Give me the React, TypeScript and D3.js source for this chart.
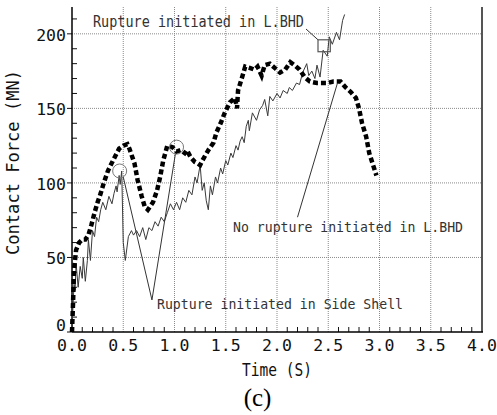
import React from "react";
import { scaleLinear, line, range } from "d3";

// thick dashed curve (square-dot line)
const thickTime = [
  0.0, 0.01, 0.02, 0.04, 0.07, 0.1, 0.13, 0.16, 0.19, 0.22, 0.25, 0.28, 0.31, 0.35, 0.4, 0.43, 0.46,
  0.5, 0.54, 0.56, 0.61, 0.64, 0.68, 0.71, 0.74, 0.79, 0.83, 0.86, 0.89, 0.93, 0.98, 1.02, 1.06,
  1.1, 1.12, 1.16, 1.2, 1.23, 1.25, 1.28, 1.33, 1.38, 1.41, 1.45, 1.49, 1.54, 1.59, 1.61, 1.62,
  1.66, 1.69, 1.74, 1.78, 1.81, 1.85, 1.88, 1.93, 1.98, 2.03, 2.08, 2.13, 2.17, 2.22, 2.27, 2.32,
  2.39, 2.49, 2.55, 2.62, 2.67, 2.72, 2.77, 2.8, 2.83, 2.87, 2.9, 2.97,
];
const thickForce = [
  0, 19, 42, 55, 60, 62, 62, 65, 72, 80, 87, 93, 100, 108, 115, 119, 123,
  125, 126, 123, 113, 102, 91, 84, 82, 87, 95, 104, 115, 125, 124, 121, 122,
  120, 122, 117, 114, 113, 112, 116, 122, 127, 134, 140, 147, 154, 157, 150, 162,
  171, 178, 177, 176, 178, 172, 179, 180, 177, 174, 176, 181, 179, 176, 171, 168,
  167, 167, 168, 168, 164, 161, 157, 150, 140, 131, 120, 105,
];

// thin solid curve
const thinTime = [
  0.0, 0.01, 0.02, 0.03, 0.04, 0.06, 0.08, 0.1, 0.11, 0.13, 0.15, 0.16, 0.18, 0.2, 0.22, 0.24,
  0.26, 0.28, 0.3, 0.33, 0.36, 0.39, 0.41, 0.43, 0.44, 0.46, 0.47, 0.485, 0.5, 0.52, 0.55, 0.58,
  0.6, 0.63, 0.66, 0.69, 0.72, 0.75, 0.78, 0.81, 0.84, 0.87, 0.9, 0.93, 0.96, 0.99, 1.02, 1.05,
  1.08, 1.11, 1.14, 1.17, 1.2, 1.22, 1.25, 1.27, 1.29, 1.31, 1.33, 1.35, 1.37, 1.4, 1.42, 1.45,
  1.47, 1.5, 1.52, 1.55, 1.57, 1.6, 1.62, 1.64, 1.66, 1.68, 1.7, 1.72, 1.73, 1.76, 1.8, 1.83,
  1.86, 1.88, 1.91, 1.93, 1.96, 2.0, 2.03, 2.06, 2.1, 2.12, 2.15, 2.19, 2.22, 2.25, 2.29, 2.31,
  2.34, 2.37, 2.39, 2.42, 2.45, 2.49, 2.51, 2.54, 2.58, 2.61, 2.64, 2.66,
];
const thinForce = [
  0, 18, 32, 28, 46, 30, 44, 36, 50, 34, 48, 62, 48, 68, 64, 77,
  74, 82, 87, 82, 91, 86, 93, 98, 94, 105, 99, 108, 60, 48, 64, 68,
  65, 68, 64, 70, 62, 70, 68, 74, 71, 77, 74, 80, 86, 82, 87, 82,
  90, 87, 95, 92, 104, 100, 112, 95, 100, 88, 82, 98, 92, 104, 100, 110,
  106, 115, 112, 120, 117, 125, 122, 128, 131, 127, 138, 142, 135, 147, 142, 149,
  152, 156, 145, 158, 155, 160, 157, 162, 160, 164, 162, 167, 166, 174, 180, 172,
  175, 170, 179, 171, 189, 185, 198, 193, 201, 196, 209, 213,
];

const xTicks = [0, 0.5, 1, 1.5, 2, 2.5, 3, 3.5, 4];
const yTicks = [0, 50, 100, 150, 200];

export default function App() {
  const W = 497;
  const H = 415;
  const left = 72, right = 482, top = 7, bottom = 332;

  const x = scaleLinear().domain([0, 4]).range([left, right]);
  const y = scaleLinear().domain([0, 218]).range([bottom, top]);

  const thickPath = line<[number, number]>()
    .x(d => x(d[0]))
    .y(d => y(d[1]))(thickTime.map((t, i) => [t, thickForce[i]]));
  const thinPath = line<[number, number]>()
    .x(d => x(d[0]))
    .y(d => y(d[1]))(thinTime.map((t, i) => [t, thinForce[i]]));

  const minorX = range(0, 40).map(i => i / 10).filter(v => Math.round(v * 10) % 5 !== 0);
  const minorY = range(10, 220, 10).filter(v => v % 50 !== 0);

  const mono = "'DejaVu Sans Mono', monospace";
  const annColor = "#333";

  return (
    <svg
      width={W}
      height={H}
      style={{ position: "absolute", left: 0, top: 0, background: "#fff" }}
    >
      <rect x={0} y={0} width={W} height={H} fill="#fff" />

      {/* grid */}
      {yTicks.filter(v => v > 0).map(v => (
        <line key={"gy" + v} x1={left} x2={right} y1={y(v)} y2={y(v)}
          stroke="#8a8a8a" strokeWidth={1} strokeDasharray="1,1" />
      ))}
      {xTicks.filter(v => v > 0 && v < 4).map(v => (
        <line key={"gx" + v} x1={x(v)} x2={x(v)} y1={top} y2={bottom}
          stroke="#8a8a8a" strokeWidth={1} strokeDasharray="1,1" />
      ))}

      {/* minor ticks */}
      {minorX.map(v => (
        <line key={"mx" + v} x1={x(v)} x2={x(v)} y1={bottom} y2={bottom - 5} stroke="#111" strokeWidth={1} />
      ))}
      {minorY.map(v => (
        <line key={"my" + v} x1={left} x2={left + 5} y1={y(v)} y2={y(v)} stroke="#111" strokeWidth={1} />
      ))}
      {yTicks.map(v => (
        <line key={"ty" + v} x1={left - 5} x2={left} y1={y(v)} y2={y(v)} stroke="#111" strokeWidth={1} />
      ))}

      {/* frame */}
      <line x1={right} x2={right} y1={top} y2={bottom} stroke="#555" strokeWidth={2} />
      <line x1={left} x2={left} y1={top} y2={bottom} stroke="#000" strokeWidth={1.5} />
      <line x1={left} x2={right + 1} y1={bottom} y2={bottom} stroke="#000" strokeWidth={1.5} />

      {/* tick labels */}
      {yTicks.map(v => (
        <text key={"ly" + v} x={left - 6} y={v === 0 ? bottom - 1 : y(v) + 7} textAnchor="end"
          fontFamily={mono} fontSize={16.5} fill="#111">{v}</text>
      ))}
      {xTicks.map(v => (
        <text key={"lx" + v} x={x(v)} y={351} textAnchor="middle"
          fontFamily={mono} fontSize={16.5} fill="#111">{v.toFixed(1)}</text>
      ))}

      {/* axis titles */}
      <text transform="translate(19,162.5) rotate(-90)" textAnchor="middle"
        fontFamily={mono} fontSize={17} fill="#111" textLength={185} lengthAdjust="spacingAndGlyphs">
        Contact Force (MN)
      </text>
      <text x={277} y={376} textAnchor="middle" fontFamily={mono} fontSize={18} fill="#111"
        textLength={70} lengthAdjust="spacingAndGlyphs">
        Time (S)
      </text>
      <text x={257.5} y={406} textAnchor="middle" fontFamily="'Liberation Serif', 'Times New Roman', serif"
        fontSize={25} fill="#000">(c)</text>

      {/* data */}
      <path d={thinPath || ""} fill="none" stroke="#3a3a3a" strokeWidth={1} strokeLinejoin="round" />
      <path d={thickPath || ""} fill="none" stroke="#000" strokeWidth={4.5} strokeDasharray="5,3" />

      {/* annotations */}
      <text x={93} y={27} fontFamily={mono} fontSize={15} fill={annColor}
        textLength={211} lengthAdjust="spacingAndGlyphs">Rupture initiated in L.BHD</text>
      <line x1={306} y1={29} x2={x(2.4)} y2={y(196)} stroke={annColor} strokeWidth={1} />
      <rect x={x(2.4)} y={y(196)} width={x(2.52) - x(2.4)} height={y(188) - y(196)}
        fill="none" stroke="#555" strokeWidth={1.2} />

      <text x={233} y={232} fontFamily={mono} fontSize={14} fill={annColor}
        textLength={230} lengthAdjust="spacingAndGlyphs">No rupture initiated in L.BHD</text>
      <line x1={x(2.2)} y1={y(77)} x2={x(2.59)} y2={y(167)} stroke={annColor} strokeWidth={1} />

      <text x={157} y={309} fontFamily={mono} fontSize={14.5} fill={annColor}
        textLength={246} lengthAdjust="spacingAndGlyphs">Rupture initiated in Side Shell</text>
      <line x1={x(0.78)} y1={y(21.5)} x2={x(0.5)} y2={y(104)} stroke={annColor} strokeWidth={1} />
      <line x1={x(0.78)} y1={y(21.5)} x2={x(1.01)} y2={y(120)} stroke={annColor} strokeWidth={1} />
      <circle cx={x(0.465)} cy={y(108)} r={7} fill="none" stroke="#777" strokeWidth={1} />
      <circle cx={x(1.02)} cy={y(124)} r={7} fill="none" stroke="#777" strokeWidth={1} />
    </svg>
  );
}
